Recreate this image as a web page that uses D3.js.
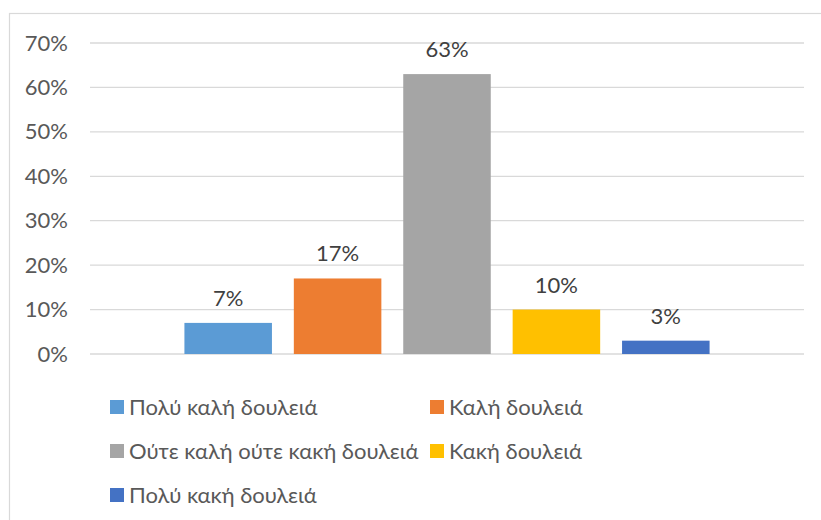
<!DOCTYPE html>
<html>
<head>
<meta charset="utf-8">
<script src="https://cdn.jsdelivr.net/npm/d3@7"></script>
<style>
  body { margin: 0; background: #fff; }
  text { font-family: Lato, "Liberation Sans", Arial, sans-serif; }
</style>
</head>
<body>
<div id="chart"></div>
<script>
// Data
const categories = ['Σύνολο'];
const seriesNames = [
  'Πολύ καλή δουλειά', 'Καλή δουλειά', 'Ούτε καλή ούτε κακή δουλειά',
  'Κακή δουλειά', 'Πολύ κακή δουλειά'
];
const seriesValues = [0.07, 0.17, 0.63, 0.10, 0.03];
const seriesColors = ['#5b9bd5', '#ed7d31', '#a5a5a5', '#ffc000', '#4472c4'];
const yTicks = [0, 0.1, 0.2, 0.3, 0.4, 0.5, 0.6, 0.7];

const W = 821, H = 520;
const plot = { left: 90, right: 804, top: 43, bottom: 354 };
const fontSize = '22px';

const svg = d3.select('#chart')
  .append('svg')
  .attr('width', W)
  .attr('height', H);

// chart border
svg.append('rect')
  .attr('x', 9.5).attr('y', 13.5)
  .attr('width', 900).attr('height', 600)
  .attr('fill', 'none')
  .attr('stroke', '#d9d9d9')
  .attr('stroke-width', 1.2);

const y = d3.scaleLinear()
  .domain([0, 0.7])
  .range([plot.bottom, plot.top]);

const x0 = d3.scaleBand()
  .domain(categories)
  .range([plot.left, plot.right])
  .paddingOuter(0.1526);

const x1 = d3.scaleBand()
  .domain(seriesNames)
  .range([0, x0.bandwidth()])
  .paddingInner(0.2)
  .paddingOuter(0.1);

// gridlines
svg.append('g')
  .selectAll('line')
  .data(yTicks)
  .enter()
  .append('line')
  .attr('x1', plot.left)
  .attr('x2', plot.right)
  .attr('y1', d => y(d))
  .attr('y2', d => y(d))
  .attr('stroke', '#d9d9d9')
  .attr('stroke-width', 1.3);

// y axis labels
const yAxis = svg.append('g')
  .attr('transform', `translate(${plot.left - 22},0)`)
  .call(d3.axisLeft(y).tickValues(yTicks).tickFormat(d3.format('.0%')).tickSize(0).tickPadding(0));
yAxis.select('.domain').remove();
yAxis.selectAll('text')
  .attr('fill', '#595959')
  .style('font-size', fontSize)
  .style('font-family', 'Lato, "Liberation Sans", Arial, sans-serif');

// bars
const groups = svg.append('g')
  .selectAll('g')
  .data(categories)
  .enter()
  .append('g')
  .attr('transform', d => `translate(${x0(d)},0)`);

groups.selectAll('rect')
  .data(seriesNames.map((s, i) => ({ name: s, value: seriesValues[i], color: seriesColors[i] })))
  .enter()
  .append('rect')
  .attr('x', d => x1(d.name))
  .attr('y', d => y(d.value))
  .attr('width', x1.bandwidth())
  .attr('height', d => y(0) - y(d.value))
  .attr('fill', d => d.color);

groups.selectAll('text')
  .data(seriesNames.map((s, i) => ({ name: s, value: seriesValues[i] })))
  .enter()
  .append('text')
  .attr('x', d => x1(d.name) + x1.bandwidth() / 2)
  .attr('y', d => y(d.value) - 17)
  .attr('text-anchor', 'middle')
  .attr('fill', '#404040')
  .style('font-size', fontSize)
  .text(d => d3.format('.0%')(d.value));

// legend
const legendPos = [
  { x: 110, y: 407 }, { x: 430, y: 407 },
  { x: 110, y: 451 }, { x: 430, y: 451 },
  { x: 110, y: 495 }
];
const legend = svg.append('g');
seriesNames.forEach((name, i) => {
  const row = legend.append('g')
    .attr('transform', `translate(${legendPos[i].x},${legendPos[i].y})`);
  row.append('rect')
    .attr('x', 0).attr('y', -7)
    .attr('width', 14).attr('height', 14)
    .attr('fill', seriesColors[i]);
  row.append('text')
    .attr('x', 19)
    .attr('y', 0)
    .attr('dy', '0.35em')
    .attr('fill', '#595959')
    .style('font-size', fontSize)
    .text(name);
});
</script>
</body>
</html>
